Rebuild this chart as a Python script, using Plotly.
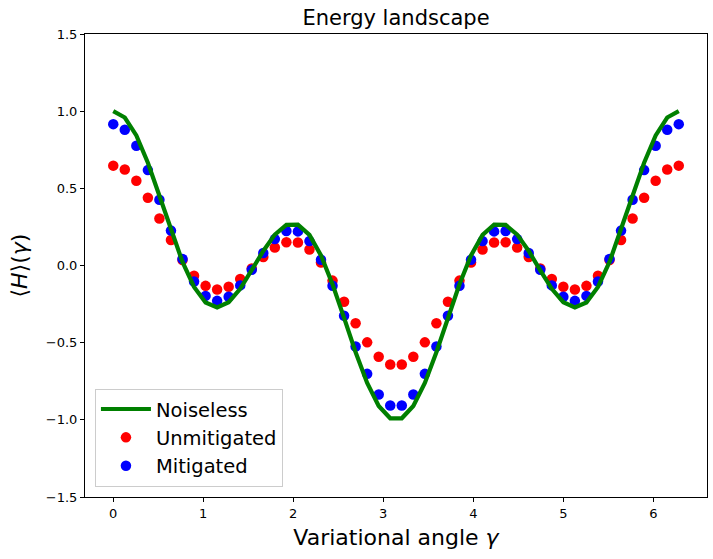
import numpy as np
import plotly.graph_objects as go

# Variational angle grid (50 points from 0 to 2*pi)
gamma = np.linspace(0, 2 * np.pi, 50)

# Values (first half; the curves are symmetric about pi)
noiseless_half = [1.000, 0.959, 0.843, 0.666, 0.452, 0.228, 0.023, -0.139, -0.240, -0.272,
                  -0.238, -0.151, -0.032, 0.094, 0.200, 0.263, 0.265, 0.198, 0.065, -0.122,
                  -0.339, -0.562, -0.761, -0.910, -0.990]
unmitigated_half = [0.647, 0.622, 0.549, 0.439, 0.305, 0.165, 0.036, -0.066, -0.132, -0.155,
                    -0.138, -0.088, -0.019, 0.055, 0.117, 0.151, 0.149, 0.104, 0.019, -0.098,
                    -0.235, -0.374, -0.498, -0.591, -0.641]
mitigated_half = [0.916, 0.880, 0.776, 0.618, 0.426, 0.226, 0.042, -0.104, -0.197, -0.229,
                  -0.203, -0.129, -0.027, 0.081, 0.171, 0.223, 0.221, 0.158, 0.037, -0.131,
                  -0.326, -0.525, -0.702, -0.836, -0.907]

noiseless = noiseless_half + noiseless_half[::-1]
unmitigated = unmitigated_half + unmitigated_half[::-1]
mitigated = mitigated_half + mitigated_half[::-1]

x_ticks = [0, 1, 2, 3, 4, 5, 6]
y_ticks = [-1.5, -1.0, -0.5, 0.0, 0.5, 1.0, 1.5]

FONT = "DejaVu Sans"

fig = go.Figure()
fig.add_trace(go.Scatter(x=gamma, y=unmitigated, mode="markers", name="Unmitigated",
                         marker=dict(color="#ff0000", size=10.5, line=dict(width=0)),
                         legendrank=2))
fig.add_trace(go.Scatter(x=gamma, y=mitigated, mode="markers", name="Mitigated",
                         marker=dict(color="#0000ff", size=10.5, line=dict(width=0)),
                         legendrank=3))
fig.add_trace(go.Scatter(x=gamma, y=noiseless, mode="lines", name="Noiseless",
                         line=dict(color="#008000", width=4.2),
                         legendrank=1))

fig.update_layout(
    width=713, height=559,
    margin=dict(l=85, r=6, t=34, b=62),
    paper_bgcolor="white", plot_bgcolor="white",
    font=dict(family=FONT, size=13, color="black"),
    title=dict(text="Energy landscape", x=(85 + 707) / 2 / 713, xanchor="center",
               y=1 - 18 / 559, yanchor="middle", yref="container",
               font=dict(family=FONT, size=21, color="black")),
    showlegend=True,
    legend=dict(x=0.016, y=0.022, xanchor="left", yanchor="bottom",
                bgcolor="rgba(255,255,255,0.8)", bordercolor="#cccccc", borderwidth=1,
                font=dict(family=FONT, size=19.5, color="black"),
                itemwidth=50, traceorder="normal"),
)
fig.update_xaxes(range=[-0.314, 6.597], tickvals=x_ticks, ticks="outside", ticklen=4,
                 tickwidth=1, tickcolor="black", showline=True, linecolor="black",
                 linewidth=1, mirror=True, showgrid=False, zeroline=False,
                 title=dict(text="Variational angle <i>γ</i>", standoff=10,
                            font=dict(family=FONT, size=22, color="black")))
fig.update_yaxes(range=[-1.5, 1.5], tickvals=y_ticks, tickformat=".1f", ticks="outside",
                 ticklen=4, tickwidth=1, tickcolor="black", showline=True, linecolor="black",
                 linewidth=1, mirror=True, showgrid=False, zeroline=False,
                 title=dict(text="⟨<i>H</i>⟩(<i>γ</i>)", standoff=12,
                            font=dict(family=FONT, size=22, color="black")))

fig.write_html("out.html")
